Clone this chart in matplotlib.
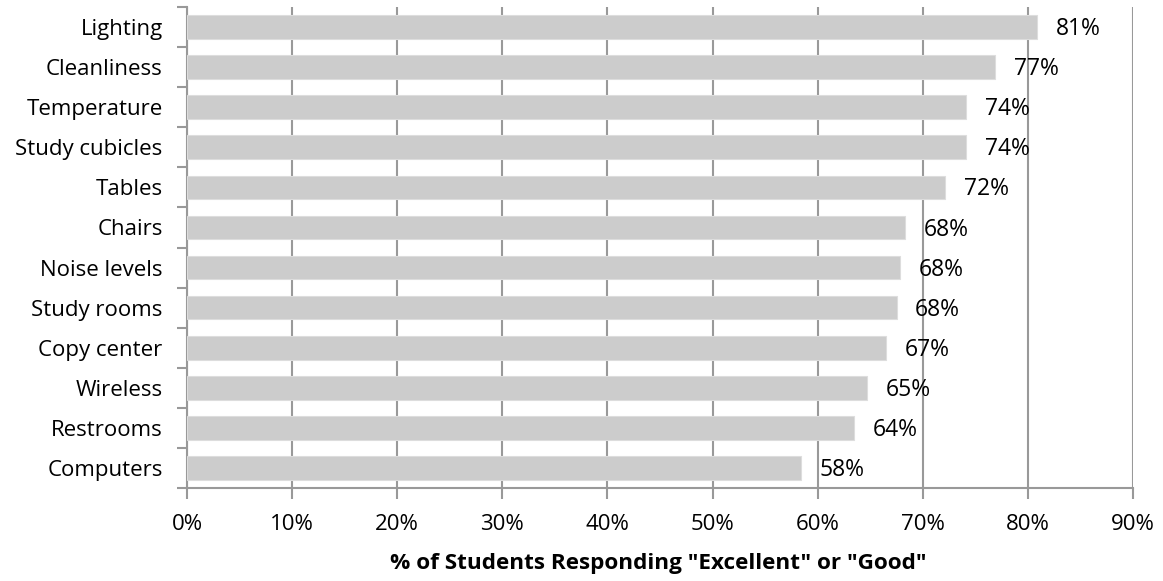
import matplotlib
matplotlib.use("Agg")
import matplotlib.pyplot as plt
from matplotlib.ticker import MultipleLocator, FuncFormatter, FixedLocator

categories = ["Lighting", "Cleanliness", "Temperature", "Study cubicles", "Tables",
              "Chairs", "Noise levels", "Study rooms", "Copy center", "Wireless",
              "Restrooms", "Computers"]
values = [0.809, 0.769, 0.741, 0.741, 0.721, 0.683, 0.678, 0.675, 0.665, 0.647, 0.635, 0.584]
value_labels = ["81%", "77%", "74%", "74%", "72%", "68%", "68%", "68%", "67%", "65%", "64%", "58%"]
xlabel = '% of Students Responding "Excellent" or "Good"'

plt.rcParams['font.family'] = ['Open Sans', 'DejaVu Sans']

fig = plt.figure(figsize=(11.63, 5.81), dpi=100)
ax = fig.add_axes([187/1163, 93/581, (1133-187)/1163, (488-7)/581])

n = len(categories)
ypos = list(range(n))[::-1]
ax.barh(ypos, values, height=0.59, color="#CCCCCC", edgecolor="#DDDDDD", linewidth=0.8, zorder=3)

for y, v, lab in zip(ypos, values, value_labels):
    ax.annotate(lab, (v, y), xytext=(13.5, -1.5), textcoords="offset points",
                ha="left", va="center", fontsize=16.5, color="black", zorder=4)

ax.set_xlim(0, 0.9)
ax.set_ylim(-0.5, n - 0.5)
ax.xaxis.set_major_locator(MultipleLocator(0.1))
ax.xaxis.set_major_formatter(FuncFormatter(lambda x, p: f"{x*100:.0f}%"))
ax.set_yticks(ypos)
ax.set_yticklabels(categories, fontsize=16)
ax.yaxis.set_minor_locator(FixedLocator([i - 0.5 for i in range(n + 1)]))
ax.tick_params(axis="y", which="major", length=0, pad=17.5)
ax.tick_params(axis="y", which="minor", length=7, width=1.5, color="#999999")
ax.tick_params(axis="x", which="major", length=8, width=1.5, color="#999999", labelsize=16, pad=11)

ax.grid(axis="x", color="#999999", linewidth=1.5, zorder=0)
for s in ["top", "right"]:
    ax.spines[s].set_visible(False)
for s in ["left", "bottom"]:
    ax.spines[s].set_color("#999999")
    ax.spines[s].set_linewidth(1.5)

fig.text(658/1163, 1 - 564/581, xlabel, ha="center", va="center", fontsize=16.2, fontweight="bold")

fig.savefig("out.png", dpi=100)
